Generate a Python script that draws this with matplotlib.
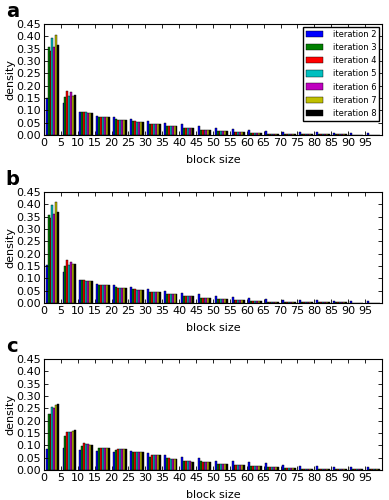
import numpy as np
import matplotlib.pyplot as plt

# histogram bins (block size) and iteration labels
bin_edges = np.arange(0, 105, 5)
iterations = ['iteration 2', 'iteration 3', 'iteration 4', 'iteration 5',
              'iteration 6', 'iteration 7', 'iteration 8']
colors = ['b', 'g', 'r', 'c', 'm', 'y', 'k']
x_ticks = list(range(0, 100, 5))
y_ticks = [0.0, 0.05, 0.10, 0.15, 0.20, 0.25, 0.30, 0.35, 0.40, 0.45]

# panel a densities, one list per iteration (20 bins each)
a_it2 = [0.151, 0.131, 0.095, 0.079, 0.074, 0.064, 0.057, 0.048, 0.043, 0.035, 0.030, 0.025, 0.022, 0.017, 0.013, 0.012, 0.011, 0.010, 0.009, 0.009]
a_it3 = [0.355, 0.154, 0.093, 0.075, 0.063, 0.055, 0.045, 0.036, 0.028, 0.022, 0.016, 0.012, 0.009, 0.006, 0.005, 0.004, 0.003, 0.003, 0.002, 0.002]
a_it4 = [0.341, 0.180, 0.095, 0.074, 0.062, 0.055, 0.045, 0.036, 0.028, 0.022, 0.016, 0.012, 0.009, 0.006, 0.005, 0.004, 0.003, 0.003, 0.002, 0.002]
a_it5 = [0.392, 0.160, 0.093, 0.074, 0.062, 0.054, 0.045, 0.035, 0.027, 0.022, 0.016, 0.012, 0.009, 0.006, 0.005, 0.004, 0.003, 0.003, 0.002, 0.002]
a_it6 = [0.355, 0.174, 0.091, 0.073, 0.061, 0.054, 0.045, 0.035, 0.027, 0.022, 0.016, 0.012, 0.009, 0.006, 0.005, 0.004, 0.003, 0.003, 0.002, 0.002]
a_it7 = [0.405, 0.160, 0.090, 0.073, 0.061, 0.053, 0.045, 0.035, 0.027, 0.022, 0.016, 0.012, 0.009, 0.006, 0.005, 0.004, 0.003, 0.003, 0.002, 0.002]
a_it8 = [0.365, 0.163, 0.090, 0.073, 0.061, 0.053, 0.045, 0.035, 0.027, 0.022, 0.016, 0.012, 0.009, 0.006, 0.005, 0.004, 0.003, 0.003, 0.002, 0.002]

# panel b
b_it2 = [0.153, 0.127, 0.094, 0.078, 0.072, 0.063, 0.056, 0.048, 0.042, 0.035, 0.030, 0.025, 0.021, 0.017, 0.013, 0.012, 0.011, 0.010, 0.009, 0.009]
b_it3 = [0.358, 0.150, 0.092, 0.074, 0.063, 0.055, 0.045, 0.035, 0.027, 0.022, 0.016, 0.012, 0.009, 0.006, 0.005, 0.004, 0.003, 0.003, 0.002, 0.002]
b_it4 = [0.345, 0.173, 0.094, 0.073, 0.062, 0.055, 0.045, 0.035, 0.027, 0.022, 0.016, 0.012, 0.009, 0.006, 0.005, 0.004, 0.003, 0.003, 0.002, 0.002]
b_it5 = [0.397, 0.155, 0.090, 0.072, 0.061, 0.054, 0.045, 0.035, 0.027, 0.022, 0.016, 0.012, 0.009, 0.006, 0.005, 0.004, 0.003, 0.003, 0.002, 0.002]
b_it6 = [0.360, 0.165, 0.090, 0.072, 0.061, 0.054, 0.045, 0.035, 0.027, 0.022, 0.016, 0.012, 0.009, 0.006, 0.005, 0.004, 0.003, 0.003, 0.002, 0.002]
b_it7 = [0.410, 0.160, 0.088, 0.072, 0.061, 0.053, 0.045, 0.035, 0.027, 0.022, 0.016, 0.012, 0.009, 0.006, 0.005, 0.004, 0.003, 0.003, 0.002, 0.002]
b_it8 = [0.368, 0.160, 0.088, 0.072, 0.061, 0.053, 0.045, 0.035, 0.027, 0.022, 0.016, 0.012, 0.009, 0.006, 0.005, 0.004, 0.003, 0.003, 0.002, 0.002]

# panel c
c_it2 = [0.084, 0.090, 0.081, 0.078, 0.072, 0.077, 0.068, 0.062, 0.052, 0.047, 0.038, 0.035, 0.032, 0.028, 0.020, 0.018, 0.017, 0.014, 0.013, 0.013]
c_it3 = [0.228, 0.138, 0.099, 0.088, 0.080, 0.073, 0.054, 0.048, 0.037, 0.035, 0.026, 0.021, 0.017, 0.012, 0.008, 0.006, 0.005, 0.004, 0.003, 0.003]
c_it4 = [0.228, 0.156, 0.108, 0.088, 0.084, 0.073, 0.060, 0.048, 0.036, 0.034, 0.025, 0.020, 0.016, 0.012, 0.008, 0.006, 0.005, 0.004, 0.003, 0.003]
c_it5 = [0.255, 0.153, 0.107, 0.088, 0.084, 0.073, 0.062, 0.046, 0.035, 0.034, 0.025, 0.020, 0.016, 0.012, 0.008, 0.006, 0.005, 0.004, 0.003, 0.003]
c_it6 = [0.253, 0.153, 0.107, 0.088, 0.084, 0.073, 0.062, 0.046, 0.035, 0.033, 0.025, 0.020, 0.016, 0.012, 0.008, 0.006, 0.005, 0.004, 0.003, 0.003]
c_it7 = [0.264, 0.158, 0.102, 0.088, 0.084, 0.073, 0.062, 0.046, 0.034, 0.033, 0.025, 0.020, 0.016, 0.012, 0.008, 0.006, 0.005, 0.004, 0.003, 0.003]
c_it8 = [0.268, 0.162, 0.102, 0.088, 0.084, 0.073, 0.062, 0.046, 0.034, 0.033, 0.025, 0.020, 0.016, 0.012, 0.008, 0.006, 0.005, 0.004, 0.003, 0.003]

panels = [
    ('a', [a_it2, a_it3, a_it4, a_it5, a_it6, a_it7, a_it8]),
    ('b', [b_it2, b_it3, b_it4, b_it5, b_it6, b_it7, b_it8]),
    ('c', [c_it2, c_it3, c_it4, c_it5, c_it6, c_it7, c_it8]),
]

fig = plt.figure(figsize=(3.89, 5.0), dpi=100)
tops = [0.952, 0.616, 0.282]
height = 0.222

bin_w = bin_edges[1] - bin_edges[0]
n = len(iterations)
dw = bin_w * 0.8 / n  # same layout as a multi-dataset hist

for (letter, series), top in zip(panels, tops):
    ax = fig.add_axes([0.113, top - height, 0.869, height])
    for j, (vals, col, lab) in enumerate(zip(series, colors, iterations)):
        left = bin_edges[:-1] + 0.1 * bin_w + j * dw
        ax.bar(left, vals, width=dw, align='edge', color=col,
               edgecolor='k', linewidth=0.3, label=lab)
    ax.set_xlim(0, 100)
    ax.set_ylim(0, 0.45)
    ax.set_xticks(x_ticks)
    ax.set_yticks(y_ticks)
    ax.set_yticklabels(['%.2f' % v for v in y_ticks])
    ax.tick_params(direction='in', top=True, right=True, labelsize=8,
                   length=3, width=0.6, pad=2)
    ax.set_xlabel('block size', fontsize=8, labelpad=5)
    ax.set_ylabel('density', fontsize=8, labelpad=1)
    fig.text(0.015, top + 0.044, letter, fontsize=14, fontweight='bold',
             va='top', ha='left')
    if letter == 'a':
        ax.legend(loc='upper right', fontsize=6, handlelength=2.0,
                  handleheight=0.8, labelspacing=0.5, borderpad=0.4,
                  handletextpad=1.2, borderaxespad=0.3,
                  fancybox=False, framealpha=1, edgecolor='k')

fig.savefig('out.png', dpi=100)
